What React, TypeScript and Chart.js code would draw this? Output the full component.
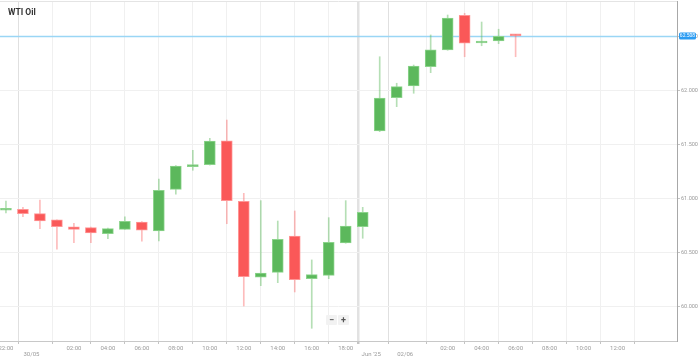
import React, { useEffect, useRef } from "react";
import { Chart, registerables } from "chart.js";

Chart.register(...registerables);

// Hourly slots (weekend compressed). First 31 slots hold candles, the rest are future slots.
const slotHours = [
  "22:00", "23:00", "00:00", "01:00", "02:00", "03:00", "04:00", "05:00", "06:00", "07:00",
  "08:00", "09:00", "10:00", "11:00", "12:00", "13:00", "14:00", "15:00", "16:00", "17:00",
  "18:00", "19:00",
  "22:00", "23:00", "00:00", "01:00", "02:00", "03:00", "04:00", "05:00", "06:00", "07:00",
  "08:00", "09:00", "10:00", "11:00", "12:00", "13:00", "14:00", "15:00",
];

const opens = [
  60.891, 60.900, 60.859, 60.801, 60.736, 60.729, 60.673, 60.714, 60.782, 60.699,
  61.085, 61.295, 61.314, 61.536, 60.974, 60.269, 60.315, 60.652, 60.256, 60.287,
  60.587, 60.738, 61.626, 61.935, 62.044, 62.223, 62.378, 62.699, 62.442, 62.461,
  62.519,
];
const highs = [
  60.977, 60.918, 60.986, 60.803, 60.770, 60.735, 60.725, 60.831, 60.785, 61.181,
  61.305, 61.447, 61.558, 61.728, 61.048, 60.980, 60.791, 60.884, 60.430, 60.822,
  60.980, 60.918, 62.315, 62.069, 62.238, 62.517, 62.702, 62.718, 62.637, 62.570,
  62.522,
];
const lows = [
  60.865, 60.831, 60.720, 60.529, 60.590, 60.590, 60.627, 60.712, 60.603, 60.606,
  61.039, 61.262, 61.310, 60.766, 60.003, 60.191, 60.219, 60.133, 59.796, 60.256,
  60.585, 60.631, 61.620, 61.852, 61.976, 62.167, 62.375, 62.315, 62.417, 62.436,
  62.315,
];
const closes = [
  60.893, 60.859, 60.791, 60.738, 60.714, 60.680, 60.720, 60.789, 60.705, 61.076,
  61.301, 61.308, 61.533, 60.980, 60.275, 60.309, 60.621, 60.247, 60.293, 60.594,
  60.745, 60.872, 61.932, 62.037, 62.229, 62.378, 62.674, 62.440, 62.458, 62.505,
  62.508,
];

const hourTickLabels = [
  "22:00", "02:00", "04:00", "06:00", "08:00", "10:00", "12:00", "14:00", "16:00", "18:00",
  "02:00", "04:00", "06:00", "08:00", "10:00", "12:00",
];
const dateLabels = ["30/05", "Jun '25", "02/06"];
const dateSlots = [2, 22, 24];

const yTickValues = [60, 60.5, 61, 61.5, 62, 62.5];
const lastPrice = 62.508;
const title = "WTI Oil";

type TickDef = { value: number; label: string | string[]; kind: "hour" | "date" | "break" };

function buildXTicks(): TickDef[] {
  const defs: TickDef[] = [];
  let from = 0;
  for (const lab of hourTickLabels) {
    const idx = slotHours.indexOf(lab, from);
    if (idx < 0) continue;
    defs.push({ value: idx, label: lab, kind: "hour" });
    from = idx + 1;
  }
  dateLabels.forEach((lab, k) => {
    const slot = dateSlots[k];
    const isBreak = slotHours[slot] !== "00:00";
    defs.push({ value: slot - 0.5, label: ["", lab], kind: isBreak ? "break" : "date" });
  });
  defs.sort((a, b) => a.value - b.value);
  return defs;
}

const GREEN = "rgb(92,184,92)";
const GREEN_BORDER = "rgb(140,212,140)";
const GREEN_WICK = "rgba(92,184,92,0.45)";
const RED = "rgb(250,88,88)";
const RED_BORDER = "rgb(255,150,150)";
const RED_WICK = "rgba(250,88,88,0.4)";

export default function App() {
  const ref = useRef<HTMLCanvasElement | null>(null);

  useEffect(() => {
    const canvas = ref.current;
    if (!canvas) return;
    const xTicks = buildXTicks();
    const up = opens.map((o, i) => closes[i] >= o);

    const bodies = opens.map((o, i) => ({ x: i, y: [o, closes[i]] }));
    const wicks = opens.map((_, i) => ({ x: i, y: [lows[i], highs[i]] }));

    const pricePlugin = {
      id: "pricePlugin",
      beforeDatasetsDraw(chart: any) {
        const { ctx, chartArea, scales } = chart;
        const y = scales.y;
        ctx.save();
        ctx.strokeStyle = "#e4e4e4";
        ctx.lineWidth = 1;
        ctx.beginPath();
        ctx.moveTo(chartArea.left, chartArea.top + 0.5);
        ctx.lineTo(chartArea.right, chartArea.top + 0.5);
        ctx.stroke();
        const py = Math.round(y.getPixelForValue(lastPrice)) + 0.5;
        ctx.strokeStyle = "#9ad6f5";
        ctx.lineWidth = 1.3;
        ctx.beginPath();
        ctx.moveTo(chartArea.left, py);
        ctx.lineTo(chartArea.right, py);
        ctx.stroke();
        ctx.restore();
      },
      afterDraw(chart: any) {
        const { ctx, chartArea, scales } = chart;
        const y = scales.y;
        const py = y.getPixelForValue(lastPrice);
        const bx = chartArea.right + 2;
        const bw = 17;
        const bh = 7;
        const by = py - bh / 2;
        ctx.save();
        ctx.fillStyle = "#2b9cf2";
        ctx.beginPath();
        const r = 1.5;
        ctx.moveTo(bx + r, by);
        ctx.lineTo(bx + bw - r, by);
        ctx.quadraticCurveTo(bx + bw, by, bx + bw, by + r);
        ctx.lineTo(bx + bw, by + bh - r);
        ctx.quadraticCurveTo(bx + bw, by + bh, bx + bw - r, by + bh);
        ctx.lineTo(bx + r, by + bh);
        ctx.quadraticCurveTo(bx, by + bh, bx, by + bh - r);
        ctx.lineTo(bx, by + r);
        ctx.quadraticCurveTo(bx, by, bx + r, by);
        ctx.fill();
        ctx.fillStyle = "#ffffff";
        ctx.font = "5px Roboto";
        ctx.textAlign = "center";
        ctx.textBaseline = "middle";
        ctx.fillText(lastPrice.toFixed(3), bx + bw / 2, py + 0.3);
        ctx.restore();
      },
    };

    const chart = new Chart(canvas, {
      type: "bar",
      data: {
        datasets: [
          {
            label: "wick",
            data: wicks as any,
            backgroundColor: up.map((u) => (u ? GREEN_WICK : RED_WICK)),
            borderWidth: 0,
            barThickness: 1,
            grouped: false,
            order: 2,
          } as any,
          {
            label: "body",
            data: bodies as any,
            backgroundColor: up.map((u) => (u ? GREEN : RED)),
            borderColor: up.map((u) => (u ? GREEN_BORDER : RED_BORDER)),
            borderWidth: 1,
            borderSkipped: false,
            barThickness: 11,
            minBarLength: 2,
            grouped: false,
            order: 1,
          } as any,
        ],
      },
      options: {
        responsive: false,
        animation: false,
        devicePixelRatio: 1,
        layout: { padding: { top: 1, left: 0, right: 0, bottom: 0 } },
        plugins: {
          legend: { display: false },
          tooltip: { enabled: false },
          title: { display: false },
        },
        scales: {
          x: {
            type: "linear",
            min: -0.35,
            max: 39.5,
            offset: false,
            afterBuildTicks: (s: any) => {
              s.ticks = xTicks.map((t) => ({ value: t.value }));
            },
            afterFit: (s: any) => {
              s.height = 18;
              s.paddingLeft = 0;
              s.paddingRight = 0;
            },
            ticks: {
              autoSkip: false,
              maxRotation: 0,
              minRotation: 0,
              padding: 1,
              color: "#9a9a9a",
              font: { size: 6, family: "Roboto", lineHeight: 1.1 },
              callback: (_v: any, i: number) => xTicks[i]?.label ?? "",
            },
            grid: {
              color: (c: any) => {
                const t = xTicks[c.index];
                if (!t) return "#f0f0f0";
                if (t.kind === "break") return "#e2e2e2";
                if (t.kind === "date") return "#e0e0e0";
                return "#f0f0f0";
              },
              lineWidth: (c: any) => {
                const t = xTicks[c.index];
                return t && t.kind === "break" ? 2.5 : 1;
              },
              tickLength: 3,
              tickColor: "#c4c4c4",
            },
            border: { display: true, color: "#c8c8c8", width: 1 },
          },
          y: {
            type: "linear",
            position: "right",
            min: 59.678,
            max: 62.832,
            afterBuildTicks: (s: any) => {
              s.ticks = yTickValues.map((v) => ({ value: v }));
            },
            afterFit: (s: any) => {
              s.width = 22;
              s.paddingTop = 0;
              s.paddingBottom = 0;
            },
            ticks: {
              padding: 1,
              color: "#9a9a9a",
              font: { size: 5.5, family: "Roboto" },
              callback: (v: any) => Number(v).toFixed(3),
            },
            grid: { color: "#f0f0f0", tickLength: 3, tickColor: "#c4c4c4" },
            border: { display: true, color: "#a8a8a8", width: 1 },
          },
        },
      } as any,
      plugins: [pricePlugin],
    });

    return () => chart.destroy();
  }, []);

  const btn: React.CSSProperties = {
    position: "absolute",
    top: 315,
    width: 11,
    height: 10,
    background: "#f2f2f2",
    borderRadius: 1,
    color: "#555",
    font: "bold 9px Roboto, sans-serif",
    lineHeight: "10px",
    textAlign: "center",
  };

  return (
    <div style={{ position: "fixed", left: 0, top: 0, width: 699, height: 359, background: "#fff", overflow: "hidden" }}>
      <canvas ref={ref} width={699} height={359} style={{ display: "block", width: 699, height: 359 }} />
      <div
        style={{
          position: "absolute",
          left: 8,
          top: 7,
          font: "bold 8.5px Roboto, sans-serif",
          color: "#333",
          lineHeight: "11px",
        }}
      >
        {title}
      </div>
      <div style={{ ...btn, left: 326 }}>−</div>
      <div style={{ ...btn, left: 338 }}>+</div>
    </div>
  );
}
